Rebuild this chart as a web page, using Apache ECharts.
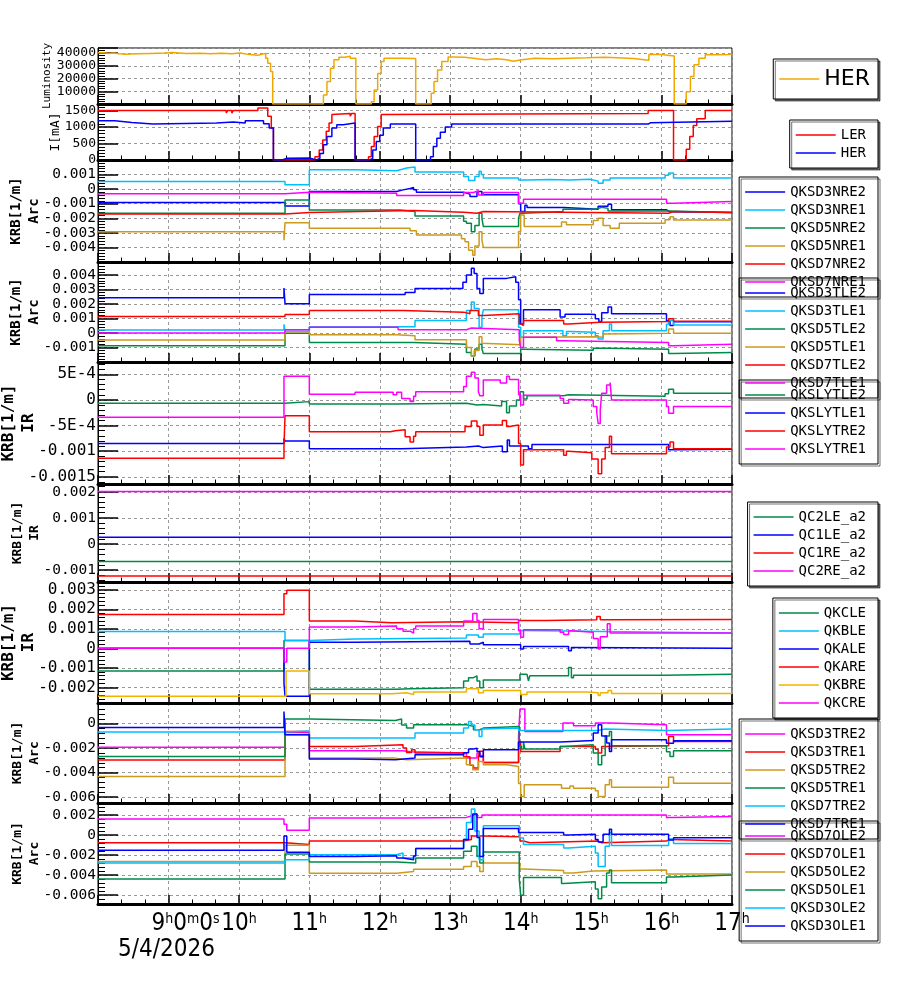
<!DOCTYPE html>
<html>
<head>
<meta charset="utf-8">
<script src="https://cdn.jsdelivr.net/npm/echarts@6/dist/echarts.min.js"></script>
<style>
  html, body { margin: 0; padding: 0; background: #fff; }
  #chart { width: 900px; height: 984px; }
</style>
</head>
<body>
<div id="chart"></div>
<script>
// colours used by the trend viewer
const RED = '#ff0000', BLUE = '#0000ff', CYAN = '#00bfff', GREEN = '#008a48'
const GOLD = '#cc9a1e', MAGENTA = '#ff00ff', ORANGE = '#f0a800', AMBER = '#f0b400'

// time axis in hours of 5/4/2026
const xMin = 8, xMax = 17
const dateLabel = '5/4/2026'

// --- luminosity
const lumHER = [[8.00,40200],[8.08,39700],[8.15,40100],[8.22,39500],[8.30,39000],[8.40,39400],[8.55,39700],[8.75,40000],[8.95,40400],[9.05,39600],[9.25,39800],[9.45,39500],[9.60,39900],[9.75,39400],[9.90,40100],[10.02,38800],[10.15,38300],[10.27,39200],[10.34,39700],[10.38,36000],[10.41,32000],[10.45,25500],[10.48,0],[11.20,7100],[11.25,17600],[11.30,28000],[11.35,34700],[11.42,36800],[11.50,37600],[11.58,36000],[11.66,0],[11.88,1800],[11.92,11000],[11.97,24000],[12.02,33400],[12.06,36000],[12.30,35700],[12.51,0],[12.73,8400],[12.77,17600],[12.82,26800],[12.88,33400],[12.97,37000],[13.05,36800],[13.20,35900],[13.33,34700],[13.50,35600],[13.66,34700],[13.80,33600],[13.90,34500],[13.99,36000],[14.20,35600],[14.46,36000],[14.70,36300],[14.94,36800],[15.20,36200],[15.45,35800],[15.60,34400],[15.82,38800],[16.00,37800],[16.18,0],[16.35,9700],[16.41,21600],[16.46,30800],[16.53,36000],[16.62,38700],[16.80,38900],[16.97,39500],[17.0,39500]]

// --- beam currents [mA]
const curLER = [[8.0,1500],[9.82,1430],[9.84,1500],[9.90,1420],[9.92,1500],[10.27,1580],[10.41,1330],[10.46,970],[10.49,0],[11.08,100],[11.14,300],[11.19,610],[11.24,870],[11.28,1120],[11.32,1380],[11.34,1410],[11.58,1330],[11.60,1410],[11.65,0],[11.84,100],[11.88,410],[11.92,710],[11.97,1020],[12.02,1380],[12.05,1410],[15.81,1500],[16.17,0],[16.35,330],[16.40,710],[16.45,1050],[16.50,1250],[16.62,1500],[17.0,1500]]
const curHER = [[8.0,1190],[8.24,1140],[8.48,1090],[8.78,1120],[9.68,1150],[9.92,1120],[10.09,1190],[10.35,1100],[10.43,970],[10.49,0],[10.61,50],[10.68,60],[11.0,0],[11.10,50],[11.15,200],[11.20,460],[11.25,710],[11.32,970],[11.39,1070],[11.48,1120],[11.65,0],[11.86,50],[11.90,300],[11.95,560],[12.00,750],[12.05,970],[12.15,1090],[12.51,0],[12.72,100],[12.76,410],[12.81,660],[12.86,840],[12.93,1000],[13.02,1090],[15.81,1130],[15.84,1180],[17.0,1180]]

// --- Arc, NR section [1/m]
const qksd3nre2 = [[8,-0.00092],[10.655,-0.00115],[11.0,-0.00016],[12.24,-0.00005],[12.33,0.00005],[12.43,0.00011],[12.48,-0.00005],[12.52,-0.00021],[13.19,-0.00034],[13.28,-0.0005],[13.38,-0.00016],[13.45,-0.00039],[13.97,-0.001],[14.0,-0.00154],[14.06,-0.0011],[14.09,-0.00126],[14.61,-0.00138],[15.1,-0.00118],[15.24,-0.00103],[15.29,-0.00142],[16.07,-0.00155],[16.12,-0.00161],[17,-0.00161]]
const qksd3nre1 = [[8,0.00053],[10.655,0.0003],[11.0,0.00133],[11.65,0.00126],[12.24,0.00138],[12.33,0.00145],[12.38,0.00152],[12.5,0.00117],[13.19,0.00087],[13.26,0.0006],[13.35,0.00087],[13.41,0.00122],[13.44,0.001],[13.47,0.00076],[13.97,0.00062],[14.1,0.00067],[14.4,0.00063],[14.7,0.00068],[14.98,0.00055],[15.1,0.00041],[15.17,0.00062],[15.27,0.00076],[16.05,0.00095],[16.1,0.0011],[16.17,0.00076],[17,0.00076]]
const qksd5nre2 = [[8,-0.00166],[10.655,-0.00074],[11.0,-0.00143],[12.29,-0.00154],[12.5,-0.00184],[13.19,-0.0022],[13.23,-0.00234],[13.3,-0.00292],[13.35,-0.0025],[13.41,-0.00166],[13.45,-0.002],[13.47,-0.00257],[13.97,-0.002],[13.99,-0.00165],[14.04,-0.00154],[14.6,-0.00138],[15.06,-0.00125],[15.15,-0.00132],[15.24,-0.0015],[16.1,-0.00161],[17,-0.00161]]
const qksd5nre1 = [[8,-0.00292],[10.64,-0.0035],[10.655,-0.0023],[11.0,-0.00269],[12.43,-0.00285],[12.52,-0.00315],[13.16,-0.0034],[13.21,-0.00361],[13.26,-0.0042],[13.32,-0.00453],[13.35,-0.0039],[13.41,-0.00292],[13.45,-0.0035],[13.47,-0.004],[13.97,-0.0029],[14.0,-0.00177],[14.05,-0.00257],[14.58,-0.00225],[14.65,-0.00245],[15.03,-0.00215],[15.1,-0.002],[15.17,-0.0025],[15.27,-0.00269],[15.4,-0.00234],[16.05,-0.0021],[16.12,-0.00189],[16.17,-0.00211],[17,-0.00211]]
const qksd7nre2 = [[8,-0.0017],[10.655,-0.0016],[11.0,-0.00147],[12.48,-0.00159],[13.19,-0.00166],[13.38,-0.00154],[13.47,-0.00166],[16.1,-0.00154],[16.17,-0.0016],[17,-0.0016]]
const qksd7nre1 = [[8,-0.00032],[10.655,-0.00021],[11.0,-0.00028],[12.24,-0.00044],[13.19,-0.00023],[13.33,-0.00011],[13.4,-0.0004],[13.47,-0.00023],[13.97,-0.00097],[14.04,-0.00069],[16.07,-0.00097],[16.17,-0.00085],[17,-0.00085]]

// --- Arc, TL section
const qksd3tle2 = [[8,0.00244],[10.64,0.0031],[10.655,0.00202],[11.0,0.00265],[12.36,0.0028],[12.5,0.00307],[13.18,0.0035],[13.23,0.004],[13.3,0.00447],[13.34,0.0041],[13.38,0.00307],[13.42,0.00272],[13.47,0.00377],[13.8,0.00388],[13.93,0.0035],[13.97,0.0023],[14.0,0.00063],[14.04,0.0016],[14.56,0.0011],[14.63,0.0013],[14.98,0.00128],[15.06,0.00098],[15.11,0.0008],[15.15,0.0014],[15.24,0.00179],[15.29,0.00133],[16.07,0.00085],[16.12,0.00051],[16.17,0.00078],[17,0.00078]]
const qksd3tle1 = [[8,0.00021],[10.64,0.0006],[10.655,0.00012],[11.0,0.00044],[12.5,0.00086],[13.23,0.00156],[13.3,0.00214],[13.34,0.0017],[13.41,0.0004],[13.45,0.0011],[13.47,0.0016],[13.97,0.0004],[14.0,-0.0003],[14.04,0.00016],[14.6,-0.00019],[14.65,0.0001],[14.7,0.00005],[15.06,-0.00019],[15.1,-0.00042],[15.17,0.00016],[15.26,0.00063],[15.29,0.00016],[16.07,0.0006],[16.1,0.00086],[16.17,0.00055],[17,0.00055]]
const qksd5tle2 = [[8,-0.00088],[10.655,-0.00002],[11.0,-0.00065],[12.48,-0.00077],[13.23,-0.00135],[13.3,-0.00158],[13.35,-0.0011],[13.41,-0.00077],[13.45,-0.0011],[13.47,-0.00142],[14.0,-0.00112],[14.04,-0.00119],[15.03,-0.00105],[15.24,-0.00112],[16.1,-0.00142],[16.17,-0.00135],[17,-0.00135]]
const qksd5tle1 = [[8,-0.00049],[10.655,0.00009],[11.0,-0.00012],[12.24,-0.00019],[12.5,-0.00047],[13.23,-0.001],[13.3,-0.00158],[13.34,-0.0012],[13.41,-0.00026],[13.45,-0.0007],[13.47,-0.00081],[14.0,-0.0003],[14.04,-0.00026],[15.06,-0.0003],[15.17,-0.00007],[15.24,-0.00002],[16.1,0.00028],[16.17,-0.00002],[17,-0.00002]]
const qksd7tle2 = [[8,0.00114],[10.655,0.00128],[11.0,0.00156],[12.33,0.00144],[13.19,0.00133],[13.28,0.00156],[13.4,0.00121],[13.47,0.00133],[13.98,0.00063],[14.01,0.00051],[14.04,0.00086],[14.61,0.00063],[14.68,0.00074],[15.13,0.0008],[16.1,0.00098],[16.17,0.00081],[17,0.00081]]
const qksd7tle1 = [[8,0.0],[10.655,0.00023],[11.0,0.0004],[12.26,0.00023],[13.23,0.00035],[13.3,0.00023],[13.98,-0.0005],[14.0,-0.001],[14.04,-0.0003],[14.51,-0.00053],[14.61,-0.00065],[16.1,-0.00088],[16.17,-0.00077],[17,-0.00077]]

// --- IR, QKSLY
const qkslytle2 = [[8,-0.000065],[10.655,-0.000033],[11.0,-0.00008],[12.24,-0.000065],[13.23,-0.0001],[13.38,-0.00009],[13.47,-0.00012],[13.73,-0.00003],[13.8,-0.00025],[13.84,-0.00012],[13.94,0.0],[13.99,0.00016],[14.04,0.00002],[14.09,0.00008],[14.61,0.0001],[14.68,0.00007],[16.05,0.00012],[16.1,0.00021],[16.17,0.00013],[17,0.00013]]
const qkslytle1 = [[8,-0.00085],[10.64,-0.00075],[10.655,-0.0008],[11.0,-0.00095],[12.31,-0.00092],[13.23,-0.0009],[13.4,-0.00093],[13.47,-0.0009],[13.74,-0.00101],[13.81,-0.00078],[13.84,-0.0009],[14.11,-0.00095],[14.16,-0.00087],[16.1,-0.00097],[16.17,-0.00096],[17,-0.00096]]
const qkslytre2 = [[8,-0.00114],[10.64,-0.0009],[10.655,-0.00031],[11.0,-0.00062],[12.15,-0.0006],[12.22,-0.00058],[12.36,-0.00072],[12.43,-0.00082],[12.48,-0.00071],[12.51,-0.00062],[13.14,-0.00062],[13.21,-0.00052],[13.3,-0.00041],[13.38,-0.00052],[13.42,-0.00069],[13.47,-0.00049],[13.74,-0.0004],[13.8,-0.00052],[13.84,-0.00049],[13.97,-0.00085],[14.0,-0.00127],[14.04,-0.00097],[14.61,-0.00108],[14.65,-0.001],[14.68,-0.00103],[15.01,-0.00115],[15.1,-0.00144],[15.15,-0.00115],[15.2,-0.00093],[15.26,-0.00071],[15.29,-0.00105],[16.07,-0.00092],[16.12,-0.00082],[16.17,-0.00095],[17,-0.00095]]
const qkslytre1 = [[8,-0.00034],[10.64,0.00046],[10.97,0.00046],[11.0,0.00011],[11.65,0.00015],[12.19,0.0001],[12.24,0.00015],[12.31,0.00003],[12.43,-0.00003],[12.48,0.00007],[12.51,0.00016],[13.14,0.00016],[13.19,0.00026],[13.23,0.00046],[13.3,0.00054],[13.35,0.00043],[13.4,0.00016],[13.42,0.00008],[13.47,0.00039],[13.71,0.00033],[13.8,0.00046],[13.84,0.0004],[13.97,0.0001],[14.0,-0.0001],[14.04,0.00009],[14.56,0.00003],[14.61,-0.000065],[14.68,0.00001],[14.72,0.0],[15.03,-0.00013],[15.08,-0.00025],[15.1,-0.00046],[15.13,-0.0002],[15.15,0.00013],[15.22,0.00029],[15.27,0.00034],[15.29,0.0],[16.07,-0.00013],[16.1,-0.00026],[16.17,-0.00013],[17,-0.00013]]

// --- IR, QC skew (flat over the day)
const qc2le = [[8,-0.00067],[17,-0.00067]]
const qc1le = [[8,0.00026],[17,0.00026]]
const qc1re = [[8,-0.00122],[17,-0.00122]]
const qc2re = [[8,0.00201],[17,0.00201]]

// --- IR, QK
const qkcle = [[8,-0.00116],[10.64,0.0004],[10.655,0.0004],[11.0,-0.0021],[12.24,-0.00207],[12.43,-0.00202],[13.19,-0.00167],[13.26,-0.0015],[13.33,-0.00141],[13.38,-0.00167],[13.42,-0.00202],[13.47,-0.00162],[13.99,-0.00133],[14.09,-0.0014],[14.11,-0.00167],[14.13,-0.0014],[14.68,-0.00098],[14.72,-0.0015],[14.75,-0.00138],[16.05,-0.00133],[17,-0.00133]]
const qkble = [[8,0.00086],[10.655,0.0004],[11.0,0.00048],[11.65,0.00053],[13.23,0.00069],[13.4,0.00057],[13.47,0.00074],[13.99,0.00091],[14.04,0.00083],[16.05,0.00079],[17,0.00079]]
const qkale = [[8,0.0],[10.64,-0.0018],[10.655,-0.00245],[11.0,0.00031],[11.65,0.00036],[13.28,0.00022],[13.41,0.00031],[13.47,0.00019],[14.0,-0.00003],[14.04,0.00009],[14.68,-0.00012],[14.72,0.00005],[14.75,0.0],[17,0.0]]
const qkare = [[8,0.00174],[10.64,0.0028],[10.68,0.00298],[11.0,0.0014],[11.65,0.00131],[12.17,0.00136],[13.19,0.00131],[13.97,0.00143],[14.37,0.00146],[15.08,0.00163],[15.13,0.00146],[15.27,0.00148],[17,0.00148]]
const qkbre = [[8,-0.00245],[10.67,-0.00116],[11.0,-0.00233],[12.17,-0.00228],[12.38,-0.00236],[12.48,-0.00224],[13.23,-0.00207],[13.4,-0.00228],[13.47,-0.00216],[14.0,-0.00236],[14.09,-0.00224],[14.94,-0.00228],[15.1,-0.00242],[15.13,-0.00228],[15.24,-0.00216],[15.29,-0.00231],[17,-0.00231]]
const qkcre = [[8,0.0],[10.64,-0.0007],[10.68,0.0],[11.0,0.00109],[11.65,0.00114],[12.24,0.001],[12.33,0.00088],[12.43,0.00078],[12.48,0.001],[12.51,0.00114],[13.19,0.0014],[13.32,0.00178],[13.38,0.00143],[13.41,0.001],[13.47,0.00148],[13.97,0.0009],[14.0,0.00057],[14.04,0.00095],[14.56,0.00083],[14.61,0.00071],[14.68,0.0009],[14.72,0.00083],[15.03,0.0005],[15.1,-0.00003],[15.13,0.0006],[15.23,0.00126],[15.27,0.00079],[17,0.00079]]

// --- Arc, TR section
const qksd3tre2 = [[8,-0.00193],[10.655,-0.00071],[11.0,-0.00222],[12.33,-0.0023],[12.43,-0.00241],[13.23,-0.00282],[13.38,-0.0024],[13.42,-0.0026],[13.47,-0.00318],[13.97,-0.001],[13.99,0.0012],[14.06,-0.00063],[14.6,0.00005],[14.75,-0.00016],[15.06,0.00005],[15.27,-0.00008],[16.07,-0.0009],[17,-0.0009]]
const qksd3tre1 = [[8,-0.00298],[10.655,-0.00063],[11.0,-0.00186],[11.65,-0.00173],[12.33,-0.00199],[12.38,-0.00236],[12.45,-0.00214],[12.5,-0.00241],[13.19,-0.0027],[13.28,-0.0034],[13.33,-0.00364],[13.4,-0.0027],[13.42,-0.00226],[13.47,-0.00318],[13.97,-0.0015],[14.0,-0.00227],[14.56,-0.00186],[15.06,-0.0021],[15.1,-0.00241],[15.15,-0.00186],[15.22,-0.00181],[16.1,-0.00104],[16.17,-0.00145],[17,-0.00145]]
const qksd5tre2 = [[8,-0.00433],[10.655,-0.0009],[11.0,-0.00282],[12.22,-0.00296],[12.38,-0.00282],[13.23,-0.00337],[13.32,-0.00378],[13.4,-0.0031],[13.47,-0.00337],[13.8,-0.0035],[13.97,-0.0049],[14.0,-0.00597],[14.05,-0.00501],[14.58,-0.00529],[14.7,-0.0051],[14.75,-0.00529],[15.06,-0.0055],[15.1,-0.00597],[15.2,-0.005],[15.26,-0.0046],[15.29,-0.0052],[16.1,-0.00438],[16.17,-0.00488],[17,-0.00488]]
const qksd5tre1 = [[8,-0.00268],[10.655,0.00038],[11.0,0.00027],[12.22,0.00038],[12.31,-0.0001],[12.38,-0.00036],[12.48,-0.00008],[13.23,-0.0002],[13.33,-0.00049],[13.42,-0.00036],[13.47,-0.00022],[13.98,-0.00185],[14.01,-0.00208],[14.04,-0.0015],[14.06,-0.00208],[14.56,-0.00186],[14.61,-0.00173],[15.03,-0.0024],[15.1,-0.00337],[15.15,-0.0026],[15.2,-0.001],[15.26,-0.00063],[15.29,-0.00181],[16.07,-0.0023],[16.12,-0.00268],[16.17,-0.00222],[17,-0.00222]]
const qksd7tre2 = [[8,-0.00068],[10.655,-0.0006],[11.0,-0.00118],[12.5,-0.00077],[13.19,-0.00036],[13.26,0.00019],[13.3,-0.0001],[13.35,-0.0005],[13.41,-0.00104],[13.45,-0.00044],[13.47,-0.00036],[13.97,-0.00055],[15.1,-0.00044],[15.2,-0.00055],[16.07,-0.00044],[17,-0.00044]]
const qksd7tre1 = [[8,-0.0003],[10.64,0.001],[10.655,-0.0009],[11.0,-0.0029],[11.65,-0.00296],[12.22,-0.0031],[12.24,-0.00282],[12.5,-0.00255],[13.19,-0.00238],[13.26,-0.00208],[13.33,-0.002],[13.38,-0.00227],[13.42,-0.0027],[13.47,-0.00214],[13.97,-0.0015],[14.56,-0.00137],[15.03,-0.00077],[15.1,-0.00008],[15.15,-0.001],[15.22,-0.00159],[15.26,-0.00227],[15.29,-0.00132],[16.07,-0.0016],[16.17,-0.0014],[17,-0.0014]]

// --- Arc, OL section
const qksd7ole2 = [[8,0.00159],[10.64,0.00108],[10.68,0.00047],[11.0,0.00169],[12.36,0.00176],[13.23,0.0019],[13.3,0.0021],[13.38,0.00176],[13.45,0.002],[16.07,0.00176],[16.17,0.00186],[17,0.00186]]
const qksd7ole1 = [[8,-0.00078],[10.655,-0.00095],[11.0,-0.00061],[13.19,-0.00044],[13.3,-0.0001],[13.47,-0.00017],[13.99,-0.0006],[14.04,-0.00078],[14.13,-0.00061],[15.1,-0.00078],[15.15,-0.00061],[16.07,-0.00044],[16.12,-0.00061],[17,-0.00061]]
const qksd5ole2 = [[8,-0.00264],[10.655,-0.00102],[11.0,-0.00383],[12.24,-0.00366],[12.48,-0.00342],[13.19,-0.00315],[13.3,-0.00264],[13.38,-0.00315],[13.42,-0.00366],[13.47,-0.00281],[13.99,-0.0034],[14.04,-0.00356],[14.61,-0.0038],[14.75,-0.0036],[15.03,-0.0035],[16.07,-0.0039],[17,-0.0039]]
const qksd5ole1 = [[8,-0.00441],[10.655,-0.0019],[11.0,-0.00271],[12.24,-0.00281],[12.51,-0.00231],[13.19,-0.00163],[13.3,-0.00112],[13.38,-0.00214],[13.42,-0.00281],[13.47,-0.00169],[13.98,-0.0044],[14.0,-0.00603],[14.04,-0.00424],[14.58,-0.00485],[14.61,-0.00468],[15.06,-0.0054],[15.1,-0.00637],[15.15,-0.0052],[15.22,-0.0038],[15.26,-0.00349],[15.29,-0.00478],[16.07,-0.0042],[16.17,-0.004],[17,-0.004]]
const qksd3ole2 = [[8,-0.00281],[10.655,-0.00247],[11.0,-0.00197],[12.24,-0.0018],[12.33,-0.00231],[12.48,-0.00207],[12.51,-0.00136],[13.19,-0.00044],[13.23,0.00125],[13.3,0.0026],[13.35,0.0004],[13.41,-0.00247],[13.47,0.00092],[13.98,-0.0003],[14.04,-0.00095],[14.61,-0.00129],[14.68,-0.00112],[15.06,-0.0018],[15.1,-0.00315],[15.2,-0.00112],[15.26,0.00024],[15.29,-0.00105],[16.1,-0.0004],[16.17,-0.00085],[17,-0.00085]]
const qksd3ole1 = [[8,-0.00152],[10.64,-0.0001],[10.68,-0.00173],[11.0,-0.00214],[11.65,-0.00207],[12.24,-0.00231],[12.33,-0.00247],[12.48,-0.0021],[12.51,-0.00136],[13.19,-0.00044],[13.26,0.00058],[13.32,0.0021],[13.38,-0.00024],[13.42,-0.00214],[13.47,0.00064],[13.97,0.00024],[14.61,0.0],[14.68,0.00007],[15.06,-0.00044],[15.1,-0.0007],[15.17,0.00007],[15.26,0.00058],[15.29,0.00007],[16.1,-0.0005],[16.17,-0.00027],[17,-0.00027]]

// one entry per strip chart, top to bottom (boxed: legend box stands alone, gets a shadow)
const panels = [
  { top: 48, height: 56, min: 0, max: 44000, step: 10000, font: 13, name: 'Luminosity', nameSize: 11, nameBold: false, nameGap: 43, legendTop: 59, bigLegend: true, boxed: true,
    series: [['HER', ORANGE, lumHER]] },
  { top: 104, height: 56, min: 0, max: 1700, step: 500, font: 13, name: 'I[mA]', nameSize: 13, nameBold: false, nameGap: 34, legendTop: 120, boxed: true,
    series: [['LER', RED, curLER], ['HER ', BLUE, curHER]] },
  { top: 160, height: 102, min: -0.005, max: 0.002, step: 0.001, font: 14.5, name: 'KRB[1/m]\nArc', nameSize: 14, nameBold: true, nameGap: 55, legendTop: 177,
    series: [['QKSD3NRE2', BLUE, qksd3nre2], ['QKSD3NRE1', CYAN, qksd3nre1], ['QKSD5NRE2', GREEN, qksd5nre2], ['QKSD5NRE1', GOLD, qksd5nre1], ['QKSD7NRE2', RED, qksd7nre2], ['QKSD7NRE1', MAGENTA, qksd7nre1]] },
  { top: 262, height: 100, min: -0.002, max: 0.0049, step: 0.001, font: 14.5, name: 'KRB[1/m]\nArc', nameSize: 14, nameBold: true, nameGap: 55, legendTop: 278,
    series: [['QKSD3TLE2', BLUE, qksd3tle2], ['QKSD3TLE1', CYAN, qksd3tle1], ['QKSD5TLE2', GREEN, qksd5tle2], ['QKSD5TLE1', GOLD, qksd5tle1], ['QKSD7TLE2', RED, qksd7tle2], ['QKSD7TLE1', MAGENTA, qksd7tle1]] },
  { top: 362, height: 122, min: -0.00164, max: 0.00074, step: 0.0005, font: 16, sci: true, name: 'KRB[1/m]\nIR', nameSize: 16, nameBold: true, nameGap: 59, legendTop: 380,
    series: [['QKSLYTLE2', GREEN, qkslytle2], ['QKSLYTLE1', BLUE, qkslytle1], ['QKSLYTRE2', RED, qkslytre2], ['QKSLYTRE1', MAGENTA, qkslytre1]] },
  { top: 484, height: 98, min: -0.00145, max: 0.0023, step: 0.001, font: 14.5, name: 'KRB[1/m]\nIR', nameSize: 13, nameBold: true, nameGap: 55, legendTop: 502, boxed: true,
    series: [['QC2LE_a2', GREEN, qc2le], ['QC1LE_a2', BLUE, qc1le], ['QC1RE_a2', RED, qc1re], ['QC2RE_a2', MAGENTA, qc2re]] },
  { top: 582, height: 121, min: -0.0028, max: 0.0034, step: 0.001, font: 16, name: 'KRB[1/m]\nIR', nameSize: 16, nameBold: true, nameGap: 59, legendTop: 598, boxed: true,
    series: [['QKCLE', GREEN, qkcle], ['QKBLE', CYAN, qkble], ['QKALE', BLUE, qkale], ['QKARE', RED, qkare], ['QKBRE', AMBER, qkbre], ['QKCRE', MAGENTA, qkcre]] },
  { top: 703, height: 100, min: -0.0065, max: 0.0017, step: 0.002, font: 14.5, name: 'KRB[1/m]\nArc', nameSize: 13, nameBold: true, nameGap: 55, legendTop: 719,
    series: [['QKSD3TRE2', MAGENTA, qksd3tre2], ['QKSD3TRE1', RED, qksd3tre1], ['QKSD5TRE2', GOLD, qksd5tre2], ['QKSD5TRE1', GREEN, qksd5tre1], ['QKSD7TRE2', CYAN, qksd7tre2], ['QKSD7TRE1', BLUE, qksd7tre1]] },
  { top: 803, height: 101, min: -0.0069, max: 0.0032, step: 0.002, font: 14.5, name: 'KRB[1/m]\nArc', nameSize: 13, nameBold: true, nameGap: 55, legendTop: 821,
    series: [['QKSD7OLE2', MAGENTA, qksd7ole2], ['QKSD7OLE1', RED, qksd7ole1], ['QKSD5OLE2', GOLD, qksd5ole2], ['QKSD5OLE1', GREEN, qksd5ole1], ['QKSD3OLE2', CYAN, qksd3ole2], ['QKSD3OLE1', BLUE, qksd3ole1]] }
]

const MONO = 'DejaVu Sans Mono'
const COND = 'DejaVu Sans Condensed'
const GRID_LEFT = 98, GRID_RIGHT = 168

// only label the ticks that sit on a multiple of the step
const yLabel = (step, sci) => v => {
  const k = v / step
  if (Math.abs(k - Math.round(k)) > 1e-6) return ''
  const n = Number((Math.round(k) * step).toPrecision(6))
  if (n === 0) return '0'
  if (sci && Math.abs(n) < 0.001) return (n < 0 ? '-' : '') + Math.round(Math.abs(n) * 1e4) + 'E-4'
  return String(n)
}
const xLabel = v => {
  if (Math.abs(v - Math.round(v)) > 1e-6 || v <= xMin) return ''
  if (Math.round(v) === 9) return '{gap|}{n|9}{s|h}{n|0}{s|m}{n|0}{s|s}'
  return '{n|' + Math.round(v) + '}{s|h}'
}

const grid = [], xAxis = [], yAxis = [], series = [], legend = []
panels.forEach((p, i) => {
  const last = i === panels.length - 1
  grid.push({ left: GRID_LEFT, right: GRID_RIGHT, top: p.top, height: p.height, containLabel: false, outerBoundsMode: 'none', show: true, borderColor: '#000', borderWidth: 1 })
  xAxis.push({
    type: 'value', gridIndex: i, min: xMin, max: xMax, interval: 1,
    axisLine: { show: true, onZero: false, lineStyle: { color: '#000', width: 3 } },
    axisTick: { inside: true, length: 9, lineStyle: { color: '#000', width: 1.5 } },
    minorTick: { show: true, splitNumber: 3, length: 4.5, lineStyle: { color: '#000', width: 1 } },
    splitLine: { show: true, lineStyle: { color: '#999', type: [3, 3], width: 1 } },
    axisLabel: last ? {
      show: true, margin: 8, formatter: xLabel, color: '#000',
      rich: {
        gap: { width: 34 },
        n: { fontFamily: COND, fontSize: 24, color: '#000', verticalAlign: 'bottom' },
        s: { fontFamily: COND, fontSize: 14, color: '#000', verticalAlign: 'top' }
      }
    } : { show: false }
  })
  yAxis.push({
    type: 'value', gridIndex: i, min: p.min, max: p.max, minInterval: p.step, maxInterval: p.step, splitNumber: 5,
    name: p.name, nameLocation: 'middle', nameRotate: 90, nameGap: p.nameGap, nameMoveOverlap: false,
    nameTextStyle: { fontFamily: MONO, fontSize: p.nameSize, fontWeight: p.nameBold ? 'bold' : 'normal', color: '#000', lineHeight: p.nameSize + 4 },
    axisLine: { show: true, lineStyle: { color: '#000', width: 1 } },
    axisTick: { inside: true, length: 20, lineStyle: { color: '#000', width: 1.5 } },
    minorTick: { show: true, splitNumber: 5, length: 7, lineStyle: { color: '#000', width: 1 } },
    splitLine: { show: true, lineStyle: { color: '#999', type: [3, 3], width: 1 } },
    axisLabel: { margin: 2, fontFamily: MONO, fontSize: p.font, color: '#000', formatter: yLabel(p.step, p.sci) }
  })
  p.series.forEach(([name, color, data]) => {
    series.push({
      name, type: 'line', xAxisIndex: i, yAxisIndex: i, data, step: 'end',
      symbol: 'none', silent: true, clip: true,
      lineStyle: { color, width: 1.5 }, itemStyle: { color }
    })
  })
  const fs = p.bigLegend ? 22 : 14
  legend.push({
    orient: 'vertical', right: 22, top: p.legendTop, selectedMode: false,
    data: p.series.map(s => ({ name: s[0], icon: 'rect' })), formatter: n => n.trim(),
    itemWidth: 40, itemHeight: 1.4, itemGap: 4,
    padding: p.bigLegend ? [9, 8, 9, 6] : [8, 12, 8, 6],
    borderColor: '#000', borderWidth: 1,
    backgroundColor: p.boxed ? '#fff' : 'transparent',
    shadowColor: 'rgba(0,0,0,0.55)', shadowBlur: 0, shadowOffsetX: 2, shadowOffsetY: 2,
    textStyle: { fontFamily: p.bigLegend ? 'DejaVu Sans' : MONO, fontSize: fs, lineHeight: fs, color: '#000' }
  })
})

const chart = echarts.init(document.getElementById('chart'), null, { renderer: 'canvas' })
chart.setOption({
  animation: false,
  backgroundColor: '#fff',
  grid, xAxis, yAxis, series, legend,
  graphic: [{ type: 'text', left: 118, top: 938, style: { text: dateLabel, font: '24px "DejaVu Sans Condensed"', fill: '#000' } }]
})
</script>
</body>
</html>
